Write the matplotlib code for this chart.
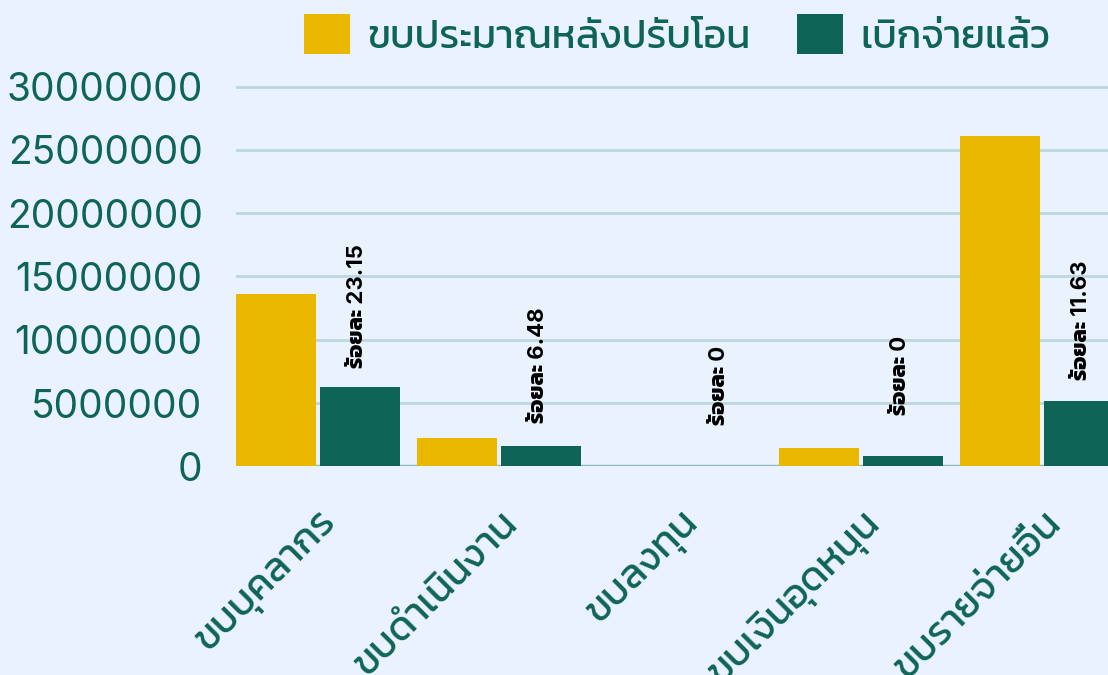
import matplotlib
matplotlib.use("Agg")
import matplotlib.pyplot as plt
import matplotlib.transforms as mtransforms
import numpy as np

categories = ['ขบบุคลากร', 'ขบดำเนินงาน', 'ขบลงทุน', 'ขบเงินอุดหนุน', 'ขบรายจ่ายอื่น']
series_names = ['ขบประมาณหลังปรับโอน', 'เบิกจ่ายแล้ว']
budget = [13610000, 2240000, 0, 1450000, 26090000]
spent = [6260000, 1600000, 0, 810000, 5160000]
percent_labels = ['23.15', '6.48', '0', '0', '11.63']
yticks = [0, 5000000, 10000000, 15000000, 20000000, 25000000, 30000000]

YELLOW = '#EBB800'
GREEN = '#0E6456'
BG = '#EAF3FD'
GRID = '#BCD7DE'
FONT = ['Inter', 'Kanit', 'DejaVu Sans']

plt.rcParams['font.family'] = FONT

W, H = 1108, 675
fig = plt.figure(figsize=(W / 100, H / 100), dpi=100, facecolor=BG)

left_px, base_px = 236, 466.3
px_per_m = 12.66
ytop = 30.15e6
top_px = base_px - ytop / 1e6 * px_per_m
ax = fig.add_axes([left_px / W, 1 - base_px / H, 1 - left_px / W, (base_px - top_px) / H])
ax.set_facecolor(BG)

grp = 181.0
x = np.arange(len(categories))
off = 42 / grp
bw = 80 / grp
ax.bar(x - off, budget, width=bw, color=YELLOW, zorder=3, label=series_names[0])
ax.bar(x + off, spent, width=bw, color=GREEN, zorder=3, label=series_names[1])

ax.set_xlim((236 - 318) / grp, (1108 - 318) / grp)
ax.set_ylim(0, ytop)
ax.set_yticks(yticks)
ax.set_yticklabels([str(v) for v in yticks])
ax.grid(axis='y', color=GRID, linewidth=2, zorder=0)
ax.axhline(0, color='#8DB8BA', linewidth=2.5, zorder=2)
for s in ax.spines.values():
    s.set_visible(False)
ax.tick_params(axis='y', length=0, pad=24, labelsize=28, labelcolor=GREEN)
ax.tick_params(axis='x', length=0, pad=0, labelsize=28.5, labelcolor=GREEN)

ax.set_xticks(x)
ax.set_xticklabels(categories, rotation=45, ha='right', va='top', rotation_mode='anchor')
shift = mtransforms.ScaledTranslation(0 / 100, -38 / 100, fig.dpi_scale_trans)
for lab in ax.get_xticklabels():
    lab.set_transform(lab.get_transform() + shift)

for xi, v, p in zip(x, spent, percent_labels):
    ax.annotate('ร้อยละ ' + p, xy=(xi + off, v), xytext=(-2, 58), textcoords='offset points',
                rotation=90, ha='center', va='center', fontsize=16, fontweight='bold',
                color='black', zorder=5)

leg = fig.legend(loc='center left', bbox_to_anchor=(304 / W, 1 - 35 / H), ncol=2,
                 frameon=False, fontsize=28.5, handlelength=1.16, handleheight=1.16,
                 handletextpad=0.43, columnspacing=1.19, borderpad=0, borderaxespad=0)
for t in leg.get_texts():
    t.set_color(GREEN)

fig.savefig('out.png', facecolor=BG)
